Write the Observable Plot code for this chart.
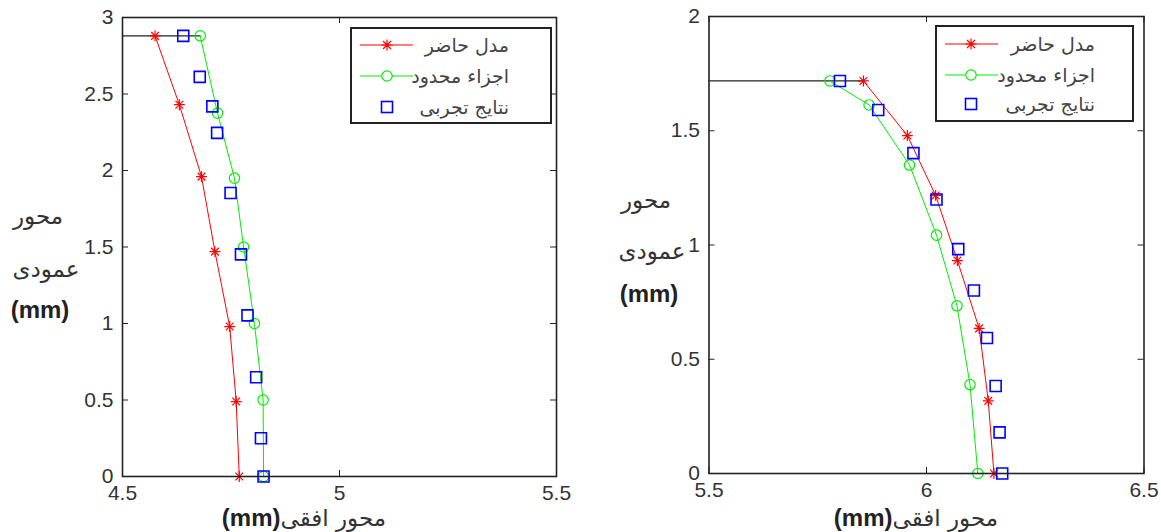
<!DOCTYPE html>
<html><head><meta charset="utf-8">
<script src="https://cdn.jsdelivr.net/npm/d3@7"></script>
<script src="https://cdn.jsdelivr.net/npm/@observablehq/plot@0.6"></script>
<style>
body{margin:0;background:#fff;}
#wrap{position:relative;width:1161px;height:532px;overflow:hidden;background:#fff;}
.panel{position:absolute;top:0;}
.panel svg{overflow:visible;}
.lab{position:absolute;font-family:"DejaVu Sans",sans-serif;color:#333;white-space:nowrap;transform:translate(-50%,-50%);font-size:23px;line-height:1;}
.mm{font-family:"Liberation Sans",Arial,sans-serif;font-weight:bold;font-size:24px;color:#222;}
.legend{position:absolute;border:2px solid #222;background:#fff;box-sizing:border-box;}
.legend svg{position:absolute;left:0;top:0;}
.ltxt{position:absolute;font-family:"DejaVu Sans",sans-serif;font-size:19px;color:#444;direction:rtl;white-space:nowrap;transform:translateY(-50%);line-height:1;}
</style>
</head><body>
<div id="wrap"></div>
<script>
// ---------- data ----------
const seriesNames = ["مدل حاضر", "اجزاء محدود", "نتایج تجربی"];
const yAxisLines = ["محور", "عمودی", "(mm)"];
const xAxisArabic = "محور افقی";
const xAxisUnit = "(mm)";

// left panel
const leftXTicks = [4.5, 5, 5.5];
const leftYTicks = [0, 0.5, 1, 1.5, 2, 2.5, 3];
const leftRedX = [4.575, 4.631, 4.682, 4.713, 4.747, 4.762, 4.769];
const leftRedY = [2.88, 2.43, 1.96, 1.47, 0.98, 0.49, 0];
const leftGreenX = [4.679, 4.719, 4.758, 4.779, 4.804, 4.824, 4.825];
const leftGreenY = [2.88, 2.375, 1.95, 1.5, 1.0, 0.5, 0];
const leftBlueX = [4.640, 4.678, 4.707, 4.718, 4.749, 4.773, 4.788, 4.808, 4.819, 4.825];
const leftBlueY = [2.88, 2.612, 2.419, 2.246, 1.853, 1.452, 1.053, 0.649, 0.250, 0];
const leftCapX = [4.5, 4.679];
const leftCapY = [2.88, 2.88];

// right panel
const rightXTicks = [5.5, 6, 6.5];
const rightYTicks = [0, 0.5, 1, 1.5, 2];
const rightRedX = [5.855, 5.956, 6.021, 6.071, 6.121, 6.142, 6.155];
const rightRedY = [1.718, 1.479, 1.217, 0.932, 0.635, 0.318, 0];
const rightGreenX = [5.778, 5.868, 5.961, 6.023, 6.070, 6.100, 6.118];
const rightGreenY = [1.718, 1.613, 1.350, 1.043, 0.734, 0.389, 0];
const rightBlueX = [5.801, 5.889, 5.970, 6.023, 6.073, 6.109, 6.139, 6.159, 6.168, 6.174];
const rightBlueY = [1.718, 1.591, 1.402, 1.199, 0.982, 0.801, 0.593, 0.383, 0.180, 0];
const rightCapX = [5.5, 5.855];
const rightCapY = [1.718, 1.718];

// ---------- drawing ----------
const RED = "#ff0000", GREEN = "#00ee00", BLUE = "#0000ff", INK = "#222";
const rows = (xs, ys) => xs.map((x, i) => ({x, y: ys[i]}));

function panel(cfg) {
  const H = cfg.height, fw = cfg.width - cfg.ml - cfg.mr, fh = H - cfg.mt - cfg.mb;
  const red = rows(cfg.redX, cfg.redY), green = rows(cfg.greenX, cfg.greenY),
        blue = rows(cfg.blueX, cfg.blueY), cap = rows(cfg.capX, cfg.capY);
  const tk = 6;
  return Plot.plot({
    width: cfg.width, height: H,
    marginLeft: cfg.ml, marginRight: cfg.mr, marginTop: cfg.mt, marginBottom: cfg.mb,
    style: {fontFamily: "'Liberation Sans', Arial, sans-serif", fontSize: "21px", color: "#333", background: "transparent"},
    x: {domain: cfg.xDomain},
    y: {domain: cfg.yDomain},
    marks: [
      Plot.tickX(cfg.xTicks, {x: d => d, insetTop: fh - tk, stroke: INK}),
      Plot.tickX(cfg.xTicks, {x: d => d, insetBottom: fh - tk, stroke: INK}),
      Plot.tickY(cfg.yTicks, {y: d => d, insetRight: fw - tk, stroke: INK}),
      Plot.tickY(cfg.yTicks, {y: d => d, insetLeft: fw - tk, stroke: INK}),
      Plot.axisX(cfg.xTicks, {anchor: "bottom", tickSize: 0, tickPadding: 9, tickFormat: d => String(d), label: null}),
      Plot.axisY(cfg.yTicks, {anchor: "left", tickSize: 0, tickPadding: 9, tickFormat: d => String(d), label: null}),
      Plot.line(cap, {x: "x", y: "y", stroke: INK, strokeWidth: 1.3}),
      Plot.line(red, {x: "x", y: "y", stroke: RED, strokeWidth: 1}),
      Plot.line(green, {x: "x", y: "y", stroke: GREEN, strokeWidth: 1}),
      Plot.dot(red, {x: "x", y: "y", symbol: "plus", r: 3.6, stroke: RED, strokeWidth: 1.2}),
      Plot.dot(red, {x: "x", y: "y", symbol: "times", r: 3.6, stroke: RED, strokeWidth: 1.2}),
      Plot.dot(green, {x: "x", y: "y", symbol: "circle", r: 5.2, stroke: GREEN, fill: "none", strokeWidth: 1.2}),
      Plot.dot(blue, {x: "x", y: "y", symbol: "square2", r: 7, stroke: BLUE, fill: "none", strokeWidth: 1.6}),
      Plot.frame({stroke: INK, strokeWidth: 1.6})
    ]
  });
}

const wrap = document.getElementById("wrap");

function addPanel(left, cfg) {
  const d = document.createElement("div");
  d.className = "panel";
  d.style.left = left + "px";
  d.appendChild(panel(cfg));
  wrap.appendChild(d);
}

addPanel(0, {
  width: 580, height: 532, ml: 122, mr: 24, mt: 17, mb: 56,
  xDomain: [4.5, 5.5], yDomain: [0, 3], xTicks: leftXTicks, yTicks: leftYTicks,
  redX: leftRedX, redY: leftRedY, greenX: leftGreenX, greenY: leftGreenY,
  blueX: leftBlueX, blueY: leftBlueY, capX: leftCapX, capY: leftCapY
});
addPanel(580, {
  width: 581, height: 532, ml: 128.5, mr: 17.5, mt: 16, mb: 59,
  xDomain: [5.5, 6.5], yDomain: [0, 2], xTicks: rightXTicks, yTicks: rightYTicks,
  redX: rightRedX, redY: rightRedY, greenX: rightGreenX, greenY: rightGreenY,
  blueX: rightBlueX, blueY: rightBlueY, capX: rightCapX, capY: rightCapY
});

function label(text, cx, cy, cls) {
  const e = document.createElement("div");
  e.className = "lab" + (cls ? " " + cls : "");
  e.textContent = text;
  e.style.left = cx + "px"; e.style.top = cy + "px";
  if (!cls) e.style.direction = "rtl";
  wrap.appendChild(e);
}
// y-axis titles
label(yAxisLines[0], 38, 216); label(yAxisLines[1], 46, 269); label(yAxisLines[2], 40, 310, "mm");
label(yAxisLines[0], 646, 200); label(yAxisLines[1], 652, 251); label(yAxisLines[2], 649, 294, "mm");
// x-axis titles
function xlabel(cx, cy) {
  const e = document.createElement("div");
  e.className = "lab";
  e.style.direction = "rtl";
  const a = document.createElement("span");
  a.textContent = xAxisArabic;
  const b = document.createElement("span");
  b.className = "mm";
  b.textContent = xAxisUnit;
  e.appendChild(a); e.appendChild(b);
  e.style.left = cx + "px"; e.style.top = cy + "px";
  wrap.appendChild(e);
}
xlabel(304, 518); xlabel(916, 518);

function legend(left, top, w, h, rowYs, lineX0, lineX1, markX, textRight) {
  const box = document.createElement("div");
  box.className = "legend";
  Object.assign(box.style, {left: left + "px", top: top + "px", width: w + "px", height: h + "px"});
  const s = 3.6 * 1.55, t = 3.6 * 1.1;
  const [ya, yb, yc] = rowYs;
  box.innerHTML =
    `<svg width="${w}" height="${h}">
      <line x1="${lineX0}" x2="${lineX1}" y1="${ya}" y2="${ya}" stroke="${RED}"/>
      <path d="M${markX - s},${ya}H${markX + s}M${markX},${ya - s}V${ya + s}M${markX - t},${ya - t}L${markX + t},${ya + t}M${markX - t},${ya + t}L${markX + t},${ya - t}" stroke="${RED}" stroke-width="1.2"/>
      <line x1="${lineX0}" x2="${lineX1}" y1="${yb}" y2="${yb}" stroke="${GREEN}"/>
      <circle cx="${markX}" cy="${yb}" r="5.2" fill="#fff" stroke="${GREEN}" stroke-width="1.2"/>
      <rect x="${markX - 5.5}" y="${yc - 5.5}" width="11" height="11" fill="none" stroke="${BLUE}" stroke-width="1.6"/>
    </svg>`;
  seriesNames.forEach((n, i) => {
    const e = document.createElement("div");
    e.className = "ltxt";
    e.textContent = n;
    e.style.right = textRight + "px";
    e.style.top = rowYs[i] + "px";
    box.appendChild(e);
  });
  wrap.appendChild(box);
}
legend(350, 27, 202, 97, [16, 47, 78], 8, 61, 35, 41);
legend(935, 25, 199, 97, [17, 48, 77], 8, 61, 34, 37);
</script>
</body></html>
